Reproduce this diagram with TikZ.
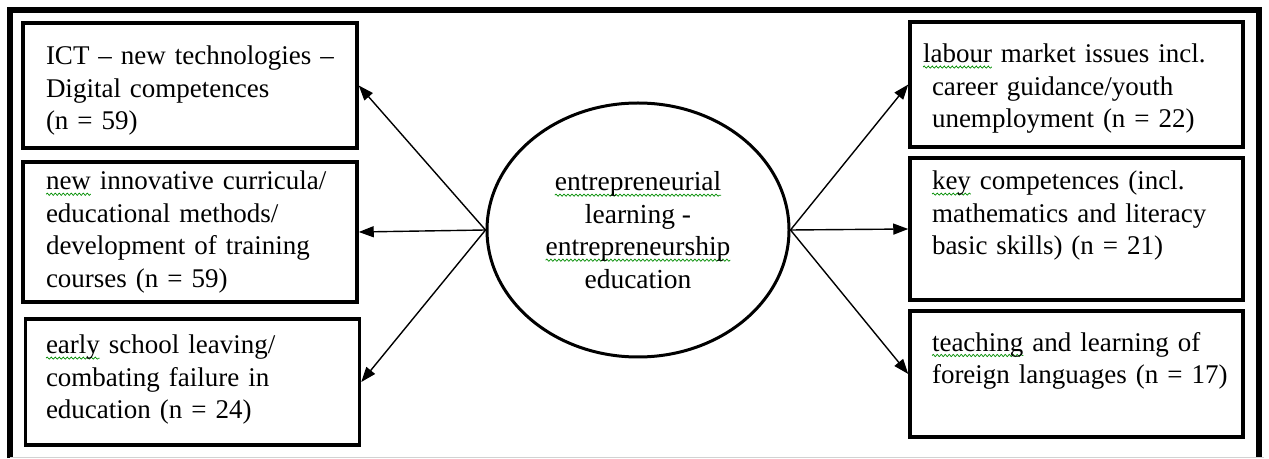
\documentclass[tikz,border=0pt]{standalone}
\usepackage{fontspec}
\setmainfont{Liberation Serif}
\usepackage{tikz}
\usetikzlibrary{shapes.geometric, arrows.meta, decorations.pathmorphing}

% green wavy spell-check mark under a word
\newsavebox\markbox
\newcommand\spellmark[1]{\sbox\markbox{#1}\rlap{\tikz[overlay, baseline=0pt]\draw[draw=green!55!black, line width=0.7pt, decorate, decoration={snake, amplitude=1.1pt, segment length=4pt}] (0pt,-4.5pt) -- (\wd\markbox,-4.5pt);}\usebox\markbox}

\tikzstyle{hub} = [ellipse, minimum width=302pt, minimum height=254pt, draw=black, line width=3pt, align=center, inner sep=0pt, font=\fontsize{27.5}{32.5}\selectfont]
\tikzstyle{topic} = [rectangle, draw=black, line width=3.5pt, align=left, inner ysep=0pt, font=\fontsize{27}{32.5}\selectfont]
\tikzstyle{lefttopic} = [topic, minimum width=334pt, inner xsep=23pt, text width=288pt]
\tikzstyle{righttopic} = [topic, minimum width=333pt, inner xsep=13pt, text width=307pt]
\tikzstyle{arrow} = [line width=1.4pt, -{Triangle[length=15pt, width=11pt]}]

\begin{document}
\begin{tikzpicture}[x=1pt, y=1pt, node distance=448pt]
        \useasboundingbox (0,0) rectangle (1269,458);
        \draw[line width=6pt] (10,0) -- (10,448) -- (1259,448) -- (1259,0);
        \draw[gray!35, line width=1pt] (10,1) -- (1264,1);

        \node(centre) [hub] at (638,228) {\spellmark{entrepreneurial}\\ learning -\\ \spellmark{entrepreneurship}\\ education};

        \node(ict) [lefttopic, minimum height=125pt, left of=centre, yshift=144.5] {\rule{0pt}{29pt}ICT -- new technologies --\\ Digital competences\\ (n = 59)};
        \node(curricula) [lefttopic, minimum height=140pt, left of=centre, yshift=-2] {\spellmark{new} innovative curricula/\\ educational methods/\\ development of training\\ courses (n = 59)};
        \node(dropout) [lefttopic, minimum height=126pt, left of=centre, xshift=2.5, yshift=-152, inner xsep=20pt, text width=293pt] {\spellmark{early} school leaving/\\ combating failure in\\ education (n = 24)\\[-22pt] \mbox{}};

        \node(labour) [righttopic, minimum height=125pt, right of=centre, xshift=-9.5, yshift=145.5] {\rule{0pt}{27pt}\spellmark{labour} market issues incl.\\ \ career guidance/youth\\ \ unemployment (n = 22)};
        \node(keycomp) [righttopic, minimum height=142pt, right of=centre, xshift=-9.5, yshift=1] {\ \spellmark{key} competences (incl.\\ \ mathematics and literacy\\ \ basic skills) (n = 21)\\ \mbox{}};
        \node(languages) [righttopic, minimum height=126pt, right of=centre, xshift=-9.5, yshift=-144] {\ \spellmark{teaching} and learning of\\ \ foreign languages (n = 17)\\ \mbox{}};

        \draw[arrow] (centre.west) -- (ict.east);
        \draw[arrow] (centre.west) -- (curricula.east);
        \draw[arrow] (centre.west) -- (dropout.east);

        \draw[arrow] (centre.east) -- (labour.west);
        \draw[arrow] (centre.east) -- (keycomp.west);
        \draw[arrow] (centre.east) -- (languages.west);
    \end{tikzpicture}
\end{document}
